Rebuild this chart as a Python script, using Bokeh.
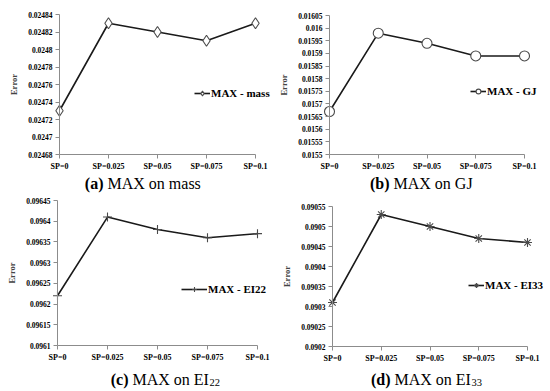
from bokeh.plotting import figure
from bokeh.models import (Range1d, FixedTicker, Legend, LegendItem, Label, LinearAxis)
from bokeh.embed import file_html
from bokeh.resources import INLINE

categories = ["SP=0", "SP=0.025", "SP=0.05", "SP=0.075", "SP=0.1"]

mass_err = [0.02473, 0.02483, 0.02482, 0.02481, 0.02483]
gj_err = [0.01567, 0.01598, 0.01594, 0.01589, 0.01589]
ei22_err = [0.09622, 0.09641, 0.09638, 0.09636, 0.09637]
ei33_err = [0.09031, 0.09053, 0.09050, 0.09047, 0.09046]

mass_ticks = [0.02468, 0.0247, 0.02472, 0.02474, 0.02476, 0.02478, 0.0248, 0.02482, 0.02484]
gj_ticks = [0.0155, 0.01555, 0.0156, 0.01565, 0.0157, 0.01575, 0.0158, 0.01585, 0.0159,
            0.01595, 0.016, 0.01605]
ei22_ticks = [0.0961, 0.09615, 0.0962, 0.09625, 0.0963, 0.09635, 0.0964, 0.09645]
ei33_ticks = [0.0902, 0.09025, 0.0903, 0.09035, 0.0904, 0.09045, 0.0905, 0.09055]

legend_labels = ["MAX - mass", "MAX - GJ", "MAX - EI22", "MAX - EI33"]
caption_tags = ["(a)", "(b)", "(c)", "(d)"]
caption_texts = ["MAX on mass", "MAX on GJ", "MAX on EI", "MAX on EI"]
caption_subs = ["", "", "22", "33"]

SERIF = "Liberation Serif"
AXIS_COL = "#8c8c8c"
W, H = 550, 391           # canvas size; the page template has no margin
OX, OY = 0, 0

# panel layout in page pixels: axis x of first category, px per category,
# top tick y, bottom tick y, legend glyph start x, legend centre y,
# caption tag right x, caption centre y, legend glyph width
panels = [
    dict(key="a", values=mass_err, ticks=mass_ticks, marker="diamond", msize=11,
         x0=59, unit=49, top=14, bot=154, lx=194, ly=93, cx=103, cy=183, gw=16),
    dict(key="b", values=gj_err, ticks=gj_ticks, marker="circle", msize=10,
         x0=329, unit=48.75, top=15, bot=154, lx=470, ly=91, cx=389, cy=183, gw=16),
    dict(key="c", values=ei22_err, ticks=ei22_ticks, marker="cross", msize=9,
         x0=57, unit=50, top=200, bot=345, lx=181, ly=289, cx=128, cy=379, gw=26),
    dict(key="d", values=ei33_err, ticks=ei33_ticks, marker="asterisk", msize=9,
         x0=332, unit=48.75, top=206, bot=346, lx=468, ly=285, cx=390, cy=379, gw=16),
]

p = figure(width=W, height=H, output_backend="svg", toolbar_location=None,
           x_axis_type=None, y_axis_type=None,
           x_range=Range1d(0, 1), y_range=Range1d(0, 1),
           min_border=0, min_border_left=0, min_border_right=0,
           min_border_top=0, min_border_bottom=0)
p.outline_line_color = None
p.background_fill_color = "white"

xs = list(range(len(categories)))

for i, pn in enumerate(panels):
    k = pn["key"]
    ticks = pn["ticks"]
    v0, v1 = ticks[0], ticks[-1]
    u = pn["unit"]
    ppv = (pn["bot"] - pn["top"]) / (v1 - v0)
    p.extra_x_ranges[k] = Range1d((OX - pn["x0"]) / u, (OX + W - pn["x0"]) / u)
    p.extra_y_ranges[k] = Range1d(v0 - (OY + H - pn["bot"]) / ppv,
                                  v1 + (pn["top"] - OY) / ppv)

    lr = p.line(xs, pn["values"], line_color="#1a1a1a", line_width=1.6,
                x_range_name=k, y_range_name=k)
    mr = p.scatter(xs, pn["values"], marker=pn["marker"], size=pn["msize"],
                   line_color="#4a4a4a", fill_color="white", line_width=1.1,
                   x_range_name=k, y_range_name=k)

    xa = LinearAxis(x_range_name=k, y_range_name=k, fixed_location=v0,
                    bounds=(0, len(categories) - 1),
                    ticker=FixedTicker(ticks=xs),
                    major_label_overrides={j: c for j, c in enumerate(categories)})
    ya = LinearAxis(x_range_name=k, y_range_name=k, fixed_location=0,
                    bounds=(v0, v1), ticker=FixedTicker(ticks=ticks),
                    major_label_overrides={t: f"{t:g}" for t in ticks},
                    axis_label="Error", axis_label_standoff=6,
                    axis_label_text_font=SERIF, axis_label_text_font_style="bold",
                    axis_label_text_font_size="8.5px")
    for ax in (xa, ya):
        ax.axis_line_color = AXIS_COL
        ax.major_tick_line_color = AXIS_COL
        ax.minor_tick_line_color = None
        ax.major_tick_out = 4
        ax.major_tick_in = 0
        ax.major_label_text_font = SERIF
        ax.major_label_text_font_style = "bold"
        ax.major_label_standoff = 3
        ax.major_label_text_color = "black"
    xa.major_label_text_font_size = "8px"
    ya.major_label_text_font_size = "7.5px"
    p.add_layout(xa, "below")
    p.add_layout(ya, "left")

    leg = Legend(items=[LegendItem(label=legend_labels[i], renderers=[lr, mr])],
                 location=(pn["lx"] - OX, OY + H - (pn["ly"] + 6)),
                 border_line_color=None, background_fill_alpha=0,
                 padding=0, margin=0, glyph_width=pn["gw"], glyph_height=12,
                 label_height=12, label_standoff=1,
                 label_text_font=SERIF, label_text_font_style="bold",
                 label_text_font_size="11px", label_text_color="black")
    p.add_layout(leg)

    # caption: bold tag + plain text (+ small subscript)
    cap_x = (pn["cx"] - pn["x0"]) / u
    cap_y = v0 - (pn["cy"] - pn["bot"]) / ppv
    common = dict(x=cap_x, y=cap_y, x_range_name=k, y_range_name=k,
                  text_baseline="middle", text_font=SERIF, text_color="black")
    p.add_layout(Label(text=caption_tags[i], text_align="right", text_font_style="bold",
                       text_font_size="16px", **common))
    p.add_layout(Label(text=caption_texts[i], text_align="left", x_offset=4,
                       text_font_size="16px", **common))
    if caption_subs[i]:
        p.add_layout(Label(text=caption_subs[i], text_align="left", x_offset=4 + 77,
                           y_offset=-3, text_font_size="10.5px", **common))

open("out.html", "w").write(file_html(p, INLINE))
